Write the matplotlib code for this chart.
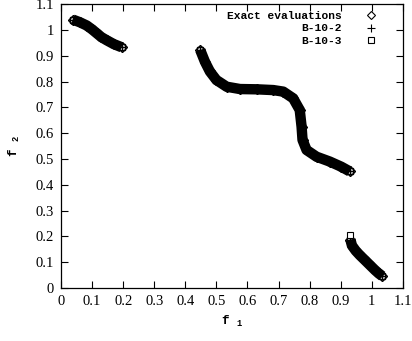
import matplotlib
matplotlib.use("Agg")
import matplotlib.pyplot as plt
from matplotlib.lines import Line2D
from matplotlib.ticker import MultipleLocator, FuncFormatter

# Pareto front, three disconnected pieces
seg1_f1 = [0.038, 0.060, 0.083, 0.100, 0.115, 0.130, 0.147, 0.170, 0.195]
seg1_f2 = [1.040, 1.030, 1.017, 1.002, 0.987, 0.972, 0.960, 0.945, 0.933]

seg2_f1 = [0.448, 0.463, 0.479, 0.500, 0.533, 0.576, 0.629, 0.683, 0.715,
           0.747, 0.768, 0.774, 0.777, 0.790, 0.822, 0.865, 0.902, 0.929]
seg2_f2 = [0.922, 0.877, 0.839, 0.806, 0.780, 0.771, 0.770, 0.767, 0.761,
           0.735, 0.690, 0.625, 0.574, 0.535, 0.509, 0.490, 0.470, 0.452]

seg3_f1 = [0.931, 0.936, 0.948, 0.961, 0.978, 0.994, 1.010, 1.022, 1.033]
seg3_f2 = [0.188, 0.165, 0.145, 0.128, 0.108, 0.089, 0.070, 0.057, 0.047]

# B-10-3 has one point sitting above the third piece
b103_extra_f1 = [0.930]
b103_extra_f2 = [0.205]

labels = ["Exact evaluations", "B-10-2", "B-10-3"]
markers = ["D", "+", "s"]

plt.rcParams["font.family"] = "Liberation Serif"
plt.rcParams["mathtext.default"] = "regular"

fig = plt.figure(figsize=(4.12, 3.41), dpi=100)
ax = fig.add_axes([0.148, 0.155, 0.83, 0.833])

segments = [(seg1_f1, seg1_f2), (seg2_f1, seg2_f2), (seg3_f1, seg3_f2)]
for xs, ys in segments:
    # dense cloud of overlapping markers shows up as a thick black band
    ax.plot(xs, ys, color="black", lw=7.5, solid_capstyle="butt", zorder=2)
    ax.plot(xs, ys, ls="none", marker="D", ms=5, mfc="none", mec="black", zorder=3)
    ax.plot(xs, ys, ls="none", marker="+", ms=6, mec="black", zorder=3)
    ax.plot(xs, ys, ls="none", marker="s", ms=5, mfc="none", mec="black", zorder=3)

ax.plot(b103_extra_f1, b103_extra_f2, ls="none", marker="s", ms=5,
        mfc="white", mec="black", mew=0.8, zorder=4)

ax.set_xlim(0, 1.1)
ax.set_ylim(0, 1.1)
ax.xaxis.set_major_locator(MultipleLocator(0.1))
ax.yaxis.set_major_locator(MultipleLocator(0.1))
fmt = FuncFormatter(lambda v, p: ("%.1f" % v).rstrip("0").rstrip("."))
ax.xaxis.set_major_formatter(fmt)
ax.yaxis.set_major_formatter(fmt)
ax.tick_params(direction="in", length=5, width=0.8, top=True, right=True,
               labelsize=10.5, pad=5)
for s in ax.spines.values():
    s.set_linewidth(0.9)

mono = {"family": "Liberation Mono", "weight": "bold", "size": 9}
ax.set_xlabel(r"f $_{\mathregular{1}}$", fontdict=mono, labelpad=4)
ax.set_ylabel(r"f $_{\mathregular{2}}$", fontdict=mono, labelpad=10)

handles = [Line2D([], [], ls="none", marker=m, ms=4.5 if m != "+" else 6,
                  mfc="none", mec="black", mew=0.8) for m in markers]
ax.legend(handles, labels, loc="upper right", frameon=False, markerfirst=False,
          prop={"family": "Liberation Mono", "weight": "bold", "size": 8.1},
          handlelength=1.0, handletextpad=2.1, labelspacing=0.25,
          borderaxespad=0, borderpad=0, bbox_to_anchor=(0.923, 0.977))

fig.savefig("out.png", dpi=100)
